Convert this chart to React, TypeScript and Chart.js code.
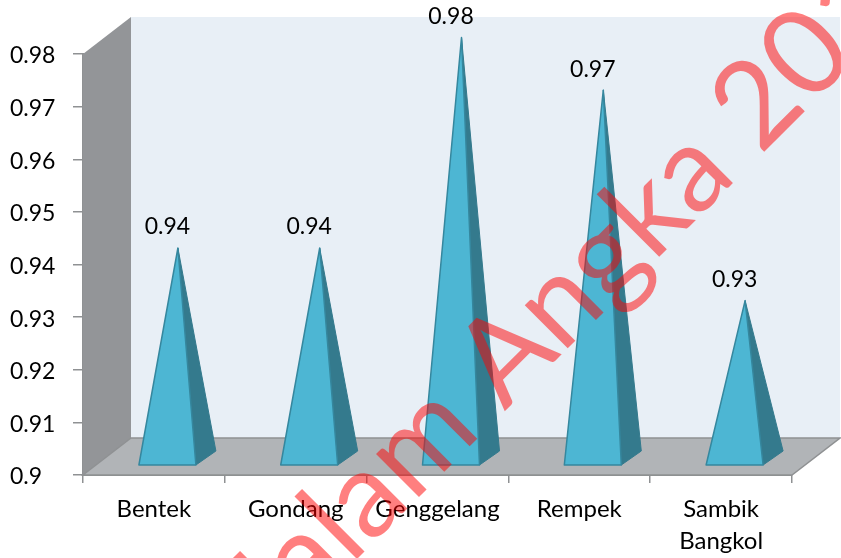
import React, { useEffect, useRef } from "react";
import { Chart, registerables } from "chart.js";

Chart.register(...registerables);

const categories = ["Bentek", "Gondang", "Genggelang", "Rempek", ["Sambik", "Bangkol"]];
const values = [0.94, 0.94, 0.98, 0.97, 0.93];
const valueLabels = ["0.94", "0.94", "0.98", "0.97", "0.93"];
const watermark = "dalam Angka 2018";

const FONT = "Lato, Carlito, sans-serif";
const FONT_SIZE = 23;
const DX = 48;
const DY = -37;

const scene = {
  id: "scene",
  beforeDatasetsDraw(chart: any) {
    const { ctx, chartArea: a } = chart;
    ctx.save();
    ctx.fillStyle = "#e8eff6";
    ctx.fillRect(a.left + DX, a.top + DY, a.width, a.height);
    ctx.fillStyle = "#939598";
    ctx.beginPath();
    ctx.moveTo(a.left, a.top);
    ctx.lineTo(a.left + DX, a.top + DY);
    ctx.lineTo(a.left + DX, a.bottom + DY);
    ctx.lineTo(a.left, a.bottom);
    ctx.closePath();
    ctx.fill();
    ctx.fillStyle = "#b1b4b7";
    ctx.strokeStyle = "#8f9193";
    ctx.lineWidth = 1.5;
    ctx.beginPath();
    ctx.moveTo(a.left, a.bottom);
    ctx.lineTo(a.left + DX, a.bottom + DY);
    ctx.lineTo(a.right + DX, a.bottom + DY);
    ctx.lineTo(a.right, a.bottom);
    ctx.closePath();
    ctx.fill();
    ctx.stroke();
    ctx.restore();
  },
  afterDatasetsDraw(chart: any) {
    const { ctx, chartArea: a } = chart;
    const meta = chart.getDatasetMeta(0);
    ctx.save();
    meta.data.forEach((bar: any, i: number) => {
      const left = bar.x - 15;
      const right = left + 57;
      const baseY = a.bottom - 10;
      const apexX = bar.x + DX / 2;
      const apexY = bar.y - 16.5;
      const backX = right + 20;
      const backY = baseY - 14;
      ctx.lineJoin = "round";
      ctx.fillStyle = "#347a8d";
      ctx.beginPath();
      ctx.moveTo(right, baseY);
      ctx.lineTo(backX, backY);
      ctx.lineTo(apexX, apexY);
      ctx.closePath();
      ctx.fill();
      ctx.strokeStyle = "#347a8d";
      ctx.lineWidth = 1;
      ctx.stroke();
      ctx.fillStyle = "#4db6d3";
      ctx.strokeStyle = "#35879e";
      ctx.lineWidth = 1.5;
      ctx.beginPath();
      ctx.moveTo(left, baseY);
      ctx.lineTo(right, baseY);
      ctx.lineTo(apexX, apexY);
      ctx.closePath();
      ctx.fill();
      ctx.stroke();
      ctx.fillStyle = "#000";
      ctx.font = `${FONT_SIZE}px ${FONT}`;
      ctx.textAlign = "center";
      ctx.textBaseline = "middle";
      ctx.fillText(valueLabels[i], apexX - 10.5, apexY - 21);
    });
    ctx.restore();
  },
  afterDraw(chart: any) {
    const { ctx } = chart;
    ctx.save();
    ctx.translate(261, 655);
    ctx.rotate(-Math.PI / 4);
    ctx.fillStyle = "rgba(255, 0, 0, 0.5)";
    ctx.font = "120px Lato, sans-serif";
    ctx.textAlign = "left";
    ctx.textBaseline = "alphabetic";
    ctx.fillText(watermark, 0, 0);
    ctx.restore();
  },
};

export default function App() {
  const ref = useRef<HTMLCanvasElement>(null);
  useEffect(() => {
    const chart = new Chart(ref.current as HTMLCanvasElement, {
      type: "bar",
      data: {
        labels: categories as any,
        datasets: [{ data: values, backgroundColor: "transparent", borderWidth: 0, barThickness: 57 }],
      },
      plugins: [scene],
      options: {
        animation: false,
        responsive: false,
        layout: { padding: { top: 54, right: 49, left: 10, bottom: 0 } },
        plugins: { legend: { display: false }, tooltip: { enabled: false } },
        scales: {
          x: {
            grid: { drawOnChartArea: false, drawTicks: true, tickLength: 8, color: "#8f9193", offset: true, lineWidth: 1.5 },
            border: { color: "#8f9193", width: 2 },
            ticks: {
              color: "#000",
              font: { family: FONT, size: 24, lineHeight: 1.34 },
              padding: 10,
              maxRotation: 0,
              autoSkip: false,
            },
            afterFit: (s: any) => { s.height = 83; },
          },
          y: {
            min: 0.9,
            max: 0.98,
            grid: { drawOnChartArea: false, drawTicks: true, tickLength: 10, color: "#8f9193", lineWidth: 1.5 },
            border: { color: "#8f9193", width: 2 },
            ticks: {
              stepSize: 0.01,
              color: "#000",
              crossAlign: "far",
              labelOffset: 2,
              font: { family: FONT, size: FONT_SIZE },
              callback: (v: any) => String(Number(Number(v).toFixed(2))),
            },
            afterFit: (s: any) => { s.width = 73; },
          },
        },
      } as any,
    });
    return () => chart.destroy();
  }, []);
  return (
    <div style={{ position: "fixed", left: 0, top: 0, width: 841, height: 558, background: "#fff" }}>
      <canvas ref={ref} width={841} height={558} style={{ display: "block" }} />
    </div>
  );
}
